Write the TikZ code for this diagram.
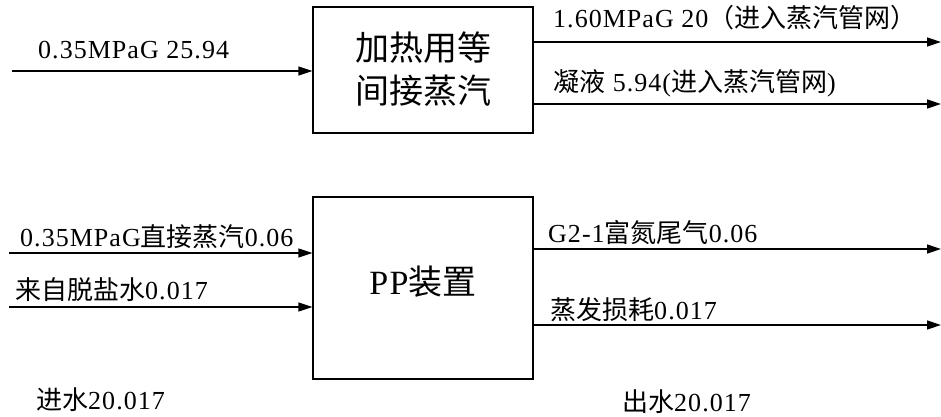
\documentclass[tikz,border=0pt]{standalone}
\usepackage{fontspec}
\setmainfont[LetterSpace=4]{Liberation Serif}
\newfontfamily\cjk{Noto Sans CJK SC}
\usetikzlibrary{arrows.meta}
\tikzset{
  flow/.style={line width=1.3pt,-{Triangle[length=14pt,width=9pt]}},
  procbox/.style={draw,line width=1.3pt,inner sep=0pt,fill=white},
  lbl/.style={anchor=west,inner sep=0pt,font=\fontsize{26}{30}\selectfont},
  boxtxt/.style={align=center,inner sep=0pt,font=\fontsize{34}{43}\selectfont}
}
\begin{document}
\begin{tikzpicture}[x=1pt,y=-1pt]
\useasboundingbox (0,0) rectangle (941,417);
% boxes
\node[procbox,minimum width=220pt,minimum height=126pt] (heat) at (423,70) {};
\node[boxtxt] (heattxt) at (423,69) {{\cjk 加热用等}\\{\cjk 间接蒸汽}};
\node[procbox,minimum width=220pt,minimum height=182pt] (pp) at (423,288) {};
\node[boxtxt] (pptxt) at (423,282) {PP{\cjk 装置}};
% coordinates
\coordinate (in1) at (12,71);
\coordinate (in2) at (9,253);
\coordinate (in3) at (9,307);
\coordinate (out1) at (941,42);
\coordinate (out2) at (941,104);
\coordinate (out3) at (941,249);
\coordinate (out4) at (941,325);
% arrows
\draw[flow] (in1) -- (in1 -| heat.west);
\draw[flow] (in2) -- (in2 -| pp.west);
\draw[flow] (in3) -- (in3 -| pp.west);
\draw[flow] (out1 -| heat.east) -- (out1);
\draw[flow] (out2 -| heat.east) -- (out2);
\draw[flow] (out3 -| pp.east) -- (out3);
\draw[flow] (out4 -| pp.east) -- (out4);
% labels
\node[lbl] (l1) at (38,50) {0.35MPaG 25.94};
\node[lbl] (l2) at (553,18) {1.60MPaG 20{\cjk （进入蒸汽管网）}};
\node[lbl] (l3) at (553,83) {{\cjk 凝液} 5.94({\cjk 进入蒸汽管网})};
\node[lbl] (l4) at (20,237) {0.35MPaG{\cjk 直接蒸汽}0.06};
\node[lbl] (l5) at (15,290) {{\cjk 来自脱盐水}0.017};
\node[lbl] (l6) at (36,400) {{\cjk 进水}20.017};
\node[lbl] (l7) at (548,233) {G2-1{\cjk 富氮尾气}0.06};
\node[lbl] (l8) at (550,310) {{\cjk 蒸发损耗}0.017};
\node[lbl] (l9) at (622,402) {{\cjk 出水}20.017};
\end{tikzpicture}
\end{document}
